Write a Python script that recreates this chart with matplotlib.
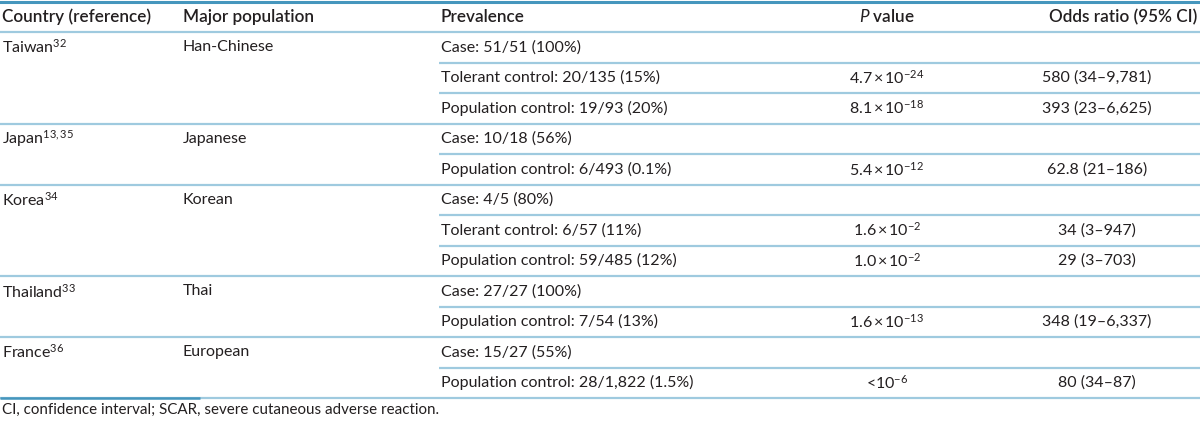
import matplotlib
matplotlib.use("Agg")
import matplotlib.pyplot as plt

# ---- table content ----
headers = ["Country (reference)", "Major population", "Prevalence", r"$\mathit{P}$ value", "Odds ratio (95% CI)"]
countries = ["Taiwan", "Japan", "Korea", "Thailand", "France"]
refs = ["32", "13,35", "34", "33", "36"]
populations = ["Han-Chinese", "Japanese", "Korean", "Thai", "European"]
prevalence = [
    ["Case: 51/51 (100%)", "Tolerant control: 20/135 (15%)", "Population control: 19/93 (20%)"],
    ["Case: 10/18 (56%)", "Population control: 6/493 (0.1%)"],
    ["Case: 4/5 (80%)", "Tolerant control: 6/57 (11%)", "Population control: 59/485 (12%)"],
    ["Case: 27/27 (100%)", "Population control: 7/54 (13%)"],
    ["Case: 15/27 (55%)", "Population control: 28/1,822 (1.5%)"],
]
# (mantissa, exponent); None = empty cell, mantissa "<" means "<10^x"
p_values = [
    [None, ("4.7", "-24"), ("8.1", "-18")],
    [None, ("5.4", "-12")],
    [None, ("1.6", "-2"), ("1.0", "-2")],
    [None, ("1.6", "-13")],
    [None, ("<", "-6")],
]
odds_ratios = [
    [None, "580 (34\u20139,781)", "393 (23\u20136,625)"],
    [None, "62.8 (21\u2013186)"],
    [None, "34 (3\u2013947)", "29 (3\u2013703)"],
    [None, "348 (19\u20136,337)"],
    [None, "80 (34\u201387)"],
]
footnote = "CI, confidence interval; SCAR, severe cutaneous adverse reaction."

# ---- style ----
FONT = "Lato"
plt.rcParams["font.family"] = [FONT, "DejaVu Sans"]
plt.rcParams["mathtext.fontset"] = "custom"
plt.rcParams["mathtext.rm"] = FONT
plt.rcParams["mathtext.it"] = FONT + ":italic"
plt.rcParams["mathtext.bf"] = FONT + ":bold"

TXT = "#231f20"
LIGHT = "#9fcadf"
DARK = "#4596bd"
FS = 11.5
HFS = 12.3

W, H = 1200, 422
col_x = [2, 183, 441]
p_center = 887
or_center = 1097
sub_x0 = 439
header_y = 17
top_line = 32
row_h = 30.5

fig = plt.figure(figsize=(W / 100, H / 100), dpi=100)
ax = fig.add_axes([0, 0, 1, 1])
ax.set_xlim(0, W)
ax.set_ylim(H, 0)
ax.axis("off")

# header
ax.axhline(1.5, color=DARK, lw=2.2)
for i, h in enumerate(headers[:3]):
    ax.text(col_x[i], header_y, h, fontsize=HFS, weight="semibold", color=TXT, va="center", ha="left")
ax.text(p_center, header_y, headers[3], fontsize=HFS, weight="semibold", color=TXT, va="center", ha="center")
ax.text(W - 3, header_y, headers[4], fontsize=HFS, weight="semibold", color=TXT, va="center", ha="right")
ax.hlines(top_line, 0, W, color=LIGHT, lw=1.6)

row = 0
for k in range(len(countries)):
    y0 = top_line + row * row_h + row_h / 2
    ax.text(col_x[0], y0, countries[k] + r"$^{\mathrm{" + refs[k] + "}}$", fontsize=FS,
            color=TXT, va="center", ha="left")
    ax.text(col_x[1], y0, populations[k], fontsize=FS, color=TXT, va="center", ha="left")
    n = len(prevalence[k])
    for j in range(n):
        y = top_line + row * row_h + row_h / 2
        ax.text(col_x[2], y, prevalence[k][j], fontsize=FS, color=TXT, va="center", ha="left")
        pv = p_values[k][j]
        if pv is not None:
            mant, ex = pv
            if mant == "<":
                s = "<10" + r"$^{\mathrm{" + ex + "}}$"
            else:
                s = mant + "\u2009\u00d7\u200910" + r"$^{\mathrm{" + ex + "}}$"
            ax.text(p_center, y, s, fontsize=FS, color=TXT, va="center", ha="center")
        if odds_ratios[k][j] is not None:
            ax.text(or_center, y, odds_ratios[k][j], fontsize=FS, color=TXT, va="center", ha="center")
        row += 1
        ly = top_line + row * row_h
        if j < n - 1:
            ax.hlines(ly, sub_x0, W, color=LIGHT, lw=1.6)
        else:
            ax.hlines(ly, 0, W, color=LIGHT, lw=1.6)

# darker segment on bottom rule
bottom = top_line + row * row_h
ax.hlines(bottom, 0, 200, color=DARK, lw=1.8)

ax.text(2, bottom + 12, footnote, fontsize=FS * 0.95, color=TXT, va="center", ha="left")

fig.savefig("out.png", dpi=100)
